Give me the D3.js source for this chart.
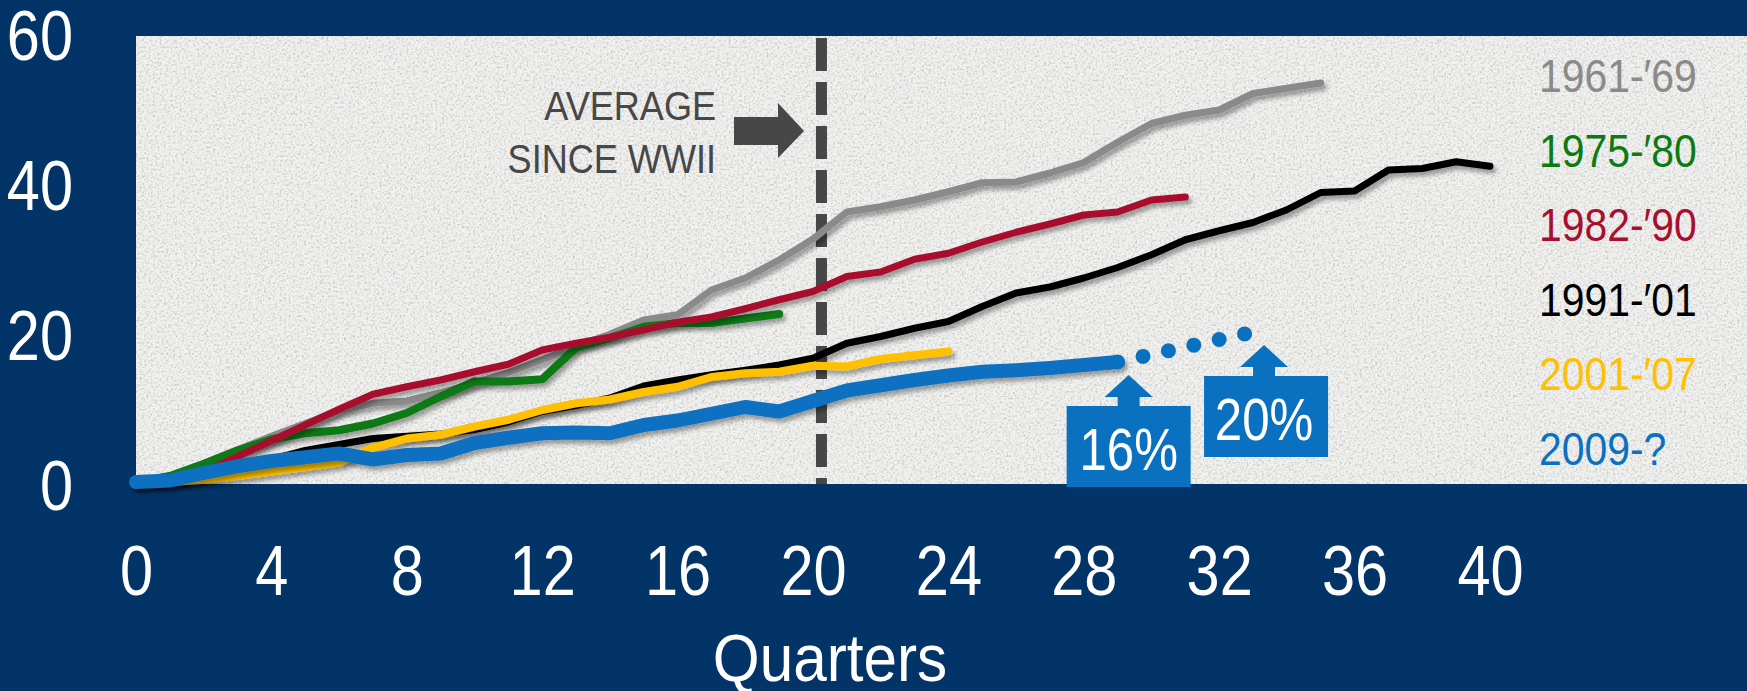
<!DOCTYPE html>
<html>
<head>
<meta charset="utf-8">
<script src="https://cdn.jsdelivr.net/npm/d3@7"></script>
<style>
  body { margin: 0; background: #023467; }
  svg { display: block; }
  text { font-family: "Liberation Sans", Arial, sans-serif; }
</style>
</head>
<body>
<svg id="chart"></svg>
<script>
const svgWidth = 1747, svgHeight = 691;

// data, one value per quarter from the trough
const xTicks = [0, 4, 8, 12, 16, 20, 24, 28, 32, 36, 40];
const yTicks = [0, 20, 40, 60];
const labels = ["1961-\u203269", "1975-\u203280", "1982-\u203290", "1991-\u203201", "2001-\u203207", "2009-?"];
const colors = ["#8a8a8a", "#0b7a12", "#a80f2f", "#000000", "#ffc000", "#0a70c0"];
const widths = [7, 8, 7, 7, 8, 14];

const s1961 = [0, 0.8, 2.5, 4.3, 6.1, 7.8, 9.5, 10.5, 10.8, 11.9, 13.2, 14.6, 16.3, 18.1, 19.7, 21.6, 22.3, 25.6, 27.2, 29.6,
  32.4, 36.0, 36.7, 37.6, 38.7, 39.9, 40.0, 41.2, 42.6, 45.3, 47.8, 48.9, 49.6, 51.8, 52.5, 53.2];
const s1975 = [0, 0.8, 2.4, 4.2, 5.7, 6.5, 6.9, 7.8, 9.2, 11.4, 13.4, 13.4, 13.7, 17.9, 19.2, 20.7, 21.2, 21.2, 21.8, 22.4];
const s1982 = [0, 0.3, 1.3, 3.4, 5.5, 7.6, 9.7, 11.7, 12.7, 13.6, 14.7, 15.7, 17.6, 18.5, 19.3, 20.3, 21.3, 22.0, 23.1, 24.3,
  25.4, 27.4, 28.0, 29.7, 30.5, 32.0, 33.3, 34.4, 35.6, 36.0, 37.6, 38.0];
const s1991 = [0, 0.1, 0.8, 1.8, 3.0, 4.2, 5.0, 5.8, 6.1, 6.4, 7.0, 8.0, 9.4, 10.2, 11.2, 12.8, 13.6, 14.3, 14.9, 15.6,
  16.5, 18.5, 19.4, 20.5, 21.4, 23.4, 25.2, 26.0, 27.2, 28.6, 30.3, 32.3, 33.5, 34.6, 36.3, 38.6, 38.8, 41.6, 41.8, 42.7, 42.1];
const s2001 = [0, 0, 0.3, 0.8, 1.4, 2.0, 2.6, 4.6, 5.8, 6.3, 7.4, 8.3, 9.6, 10.5, 11.0, 12.0, 12.7, 14.0, 14.5, 14.7,
  15.5, 15.4, 16.4, 16.9, 17.4];
const s2009 = [0, 0.2, 1.2, 2.1, 2.8, 3.3, 3.8, 3.0, 3.6, 3.8, 5.2, 5.9, 6.5, 6.6, 6.5, 7.6, 8.2, 9.1, 10.0, 9.4,
  10.8, 12.2, 12.9, 13.6, 14.2, 14.7, 14.9, 15.2, 15.6, 16.0];
const series = [s1961, s1975, s1982, s1991, s2001, s2009];

const avgQuarter = 20.25;               // average expansion since WWII
const projection = [[29, 16], [33, 20]]; // dotted path for 2009-?
const callouts = [{ q: 29, v: 16, text: "16%" }, { q: 33, v: 20, text: "20%" }];

var svg = d3.select("#chart").attr("width", svgWidth).attr("height", svgHeight);

var x = d3.scaleLinear().domain([0, 40]).range([136, 1490]);
var y = d3.scaleLinear().domain([0, 60]).range([482, 32]);

// the deck font is a condensed face, so squeeze the text sideways
function place(px, py, k) {
  return "translate(" + px + "," + py + ") scale(" + k + ",1)";
}

var defs = svg.append("defs");
var grain = defs.append("filter").attr("id", "grain")
  .attr("x", 0).attr("y", 0).attr("width", "100%").attr("height", "100%");
grain.append("feTurbulence").attr("type", "fractalNoise").attr("baseFrequency", 0.45)
  .attr("numOctaves", 3).attr("seed", 7);
grain.append("feColorMatrix").attr("type", "matrix")
  .attr("values", "0 0 0 0 0.6  0 0 0 0 0.6  0 0 0 0 0.6  1.6 1.6 1.6 0 -2.25");

var shadow = defs.append("filter").attr("id", "shadow")
  .attr("x", "-5%").attr("y", "-10%").attr("width", "110%").attr("height", "130%");
shadow.append("feDropShadow").attr("dx", 3).attr("dy", 4).attr("stdDeviation", 2)
  .attr("flood-color", "#000").attr("flood-opacity", 0.35);

// background panel
svg.append("rect").attr("x", 0).attr("y", 0).attr("width", svgWidth).attr("height", svgHeight).attr("fill", "#023467");
svg.append("rect").attr("x", 136).attr("y", 36).attr("width", svgWidth - 136).attr("height", 448).attr("fill", "#f1f1ef");
svg.append("rect").attr("x", 136).attr("y", 36).attr("width", svgWidth - 136).attr("height", 448)
  .attr("fill", "#fff").attr("filter", "url(#grain)");

// average line
svg.append("line")
  .attr("x1", x(avgQuarter)).attr("x2", x(avgQuarter))
  .attr("y1", 38).attr("y2", 484)
  .attr("stroke", "#474747").attr("stroke-width", 11)
  .attr("stroke-dasharray", "33 11");

svg.append("path")
  .attr("d", "M734,117 H778 V103 L804,131 L778,158 V145 H734 Z")
  .attr("fill", "#474747");

svg.selectAll(".avgtext")
  .data(["AVERAGE", "SINCE WWII"])
  .enter().append("text")
  .attr("transform", (d, i) => place(716, 120 + i * 53, 0.88))
  .attr("text-anchor", "end").attr("font-size", 41)
  .attr("fill", "#474747")
  .text(d => d);

// lines
var line = d3.line().x((d, i) => x(i)).y(d => y(d)).curve(d3.curveLinear);

svg.selectAll(".series")
  .data(series)
  .enter().append("path")
  .attr("class", "series")
  .attr("d", d => line(d))
  .attr("fill", "none")
  .attr("stroke", (d, i) => colors[i])
  .attr("stroke-width", (d, i) => widths[i])
  .attr("stroke-linejoin", "round")
  .attr("stroke-linecap", "round")
  .attr("filter", "url(#shadow)");

// projected path
svg.append("path")
  .attr("d", d3.line().x(d => x(d[0])).y(d => y(d[1]))(projection))
  .attr("fill", "none")
  .attr("stroke", colors[5]).attr("stroke-width", 15)
  .attr("stroke-linecap", "round")
  .attr("stroke-dasharray", "0 26");

// call-out boxes with arrows
var boxW = 124, boxH = 81;
var call = svg.selectAll(".callout").data(callouts).enter().append("g")
  .attr("transform", d => "translate(" + (x(d.q) + 11) + "," + (y(d.v) + 13) + ")");
call.append("path")
  .attr("d", "M0,0 L24,22 H11 V31 H-11 V22 H-24 Z")
  .attr("fill", colors[5]);
call.append("rect")
  .attr("x", (d, i) => i == 0 ? -62 : -60).attr("y", 31)
  .attr("width", boxW).attr("height", boxH)
  .attr("fill", colors[5]);
call.append("text")
  .attr("transform", place(0, 95, 0.82))
  .attr("text-anchor", "middle").attr("font-size", 60)
  .attr("fill", "#fff")
  .text(d => d.text);

// legend
svg.selectAll(".legend")
  .data(labels)
  .enter().append("text")
  .attr("transform", (d, i) => place(1539, 92 + i * 74.6, 0.87))
  .attr("font-size", 47)
  .attr("fill", (d, i) => colors[i])
  .text(d => d);

// axes
var xAxis = svg.append("g").attr("transform", "translate(0,595)")
  .call(d3.axisBottom(x).tickValues(xTicks).tickSize(0).tickPadding(0));
xAxis.select(".domain").remove();
xAxis.selectAll("text").attr("font-size", 70).attr("fill", "#fff").attr("dy", 0)
  .attr("font-family", "Liberation Sans, Arial, sans-serif")
  .attr("transform", "scale(0.85,1)");

var yAxis = svg.append("g").attr("transform", "translate(73,0)")
  .call(d3.axisLeft(y).tickValues(yTicks).tickSize(0).tickPadding(0));
yAxis.select(".domain").remove();
yAxis.selectAll("text").attr("font-size", 70).attr("fill", "#fff").attr("dy", 27)
  .attr("font-family", "Liberation Sans, Arial, sans-serif")
  .attr("transform", "scale(0.85,1)");

svg.append("text")
  .attr("transform", place(830, 681, 0.9))
  .attr("text-anchor", "middle").attr("font-size", 67)
  .attr("fill", "#fff")
  .text("Quarters");
</script>
</body>
</html>
